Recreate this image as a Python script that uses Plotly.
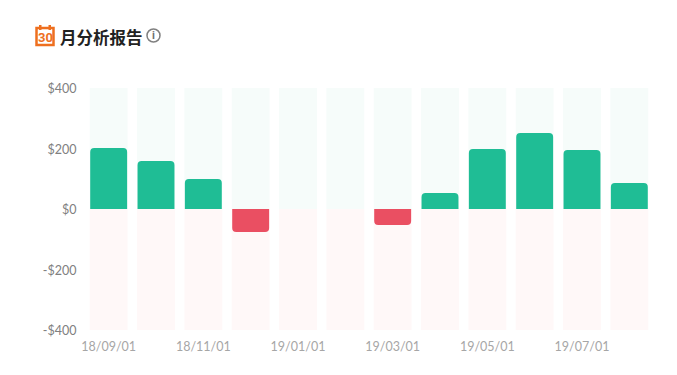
import plotly.graph_objects as go

months = ["18/09/01", "18/10/01", "18/11/01", "18/12/01", "19/01/01", "19/02/01",
          "19/03/01", "19/04/01", "19/05/01", "19/06/01", "19/07/01", "19/08/01"]
values = [202, 159, 99, -76, 0, 0, -53, 53, 198, 251, 195, 86]
bg_up = [400] * 12
bg_down = [-400] * 12
y_ticks = [400, 200, 0, -200, -400]
y_labels = ["$400", "$200", "$0", "-$200", "-$400"]
x_ticks = months[::2]
title = "月分析报告"

PAGE = 8  # the page's own margin
W, H = 677 - PAGE, 375 - PAGE
L, R, T, B = 85, 653, 88, 330   # plot box in window pixels


def px(x):
    return (x - L) / (R - L)


def py(y):
    return (B - y) / (B - T)


GREEN, RED, ORANGE = "#1fbd95", "#ea4f62", "#ee6f1f"
fig = go.Figure()
fig.add_bar(x=months, y=bg_up, marker=dict(color="#f6fcfa", line_width=0), width=0.8, hoverinfo="skip")
fig.add_bar(x=months, y=bg_down, marker=dict(color="#fff8f8", line_width=0), width=0.8, hoverinfo="skip")
fig.add_bar(x=months, y=values, width=0.78, yaxis="y2",
            marker=dict(color=[GREEN if v >= 0 else RED for v in values], line_width=0, cornerradius=4))


def paper_rect(x0, x1, y0, y1, **kw):
    return dict(type="rect", xref="paper", yref="paper", x0=px(x0), x1=px(x1), y0=py(y0), y1=py(y1), **kw)


fig.update_layout(
    width=W, height=H, autosize=False, barmode="overlay", showlegend=False,
    paper_bgcolor="white", plot_bgcolor="white",
    margin=dict(l=L - PAGE, r=W + PAGE - R, t=T - PAGE, b=H + PAGE - B),
    font=dict(family="Lato, sans-serif"),
    xaxis=dict(type="category", categoryorder="array", categoryarray=months,
               tickmode="array", tickvals=x_ticks, ticktext=x_ticks,
               showgrid=False, zeroline=False, showline=False, ticks="outside", ticklen=5,
               tickcolor="rgba(0,0,0,0)",
               tickfont=dict(size=12.5, color="#a6a6a6"), range=[-0.5, 11.5]),
    yaxis=dict(range=[-400, 400], tickmode="array", tickvals=y_ticks, ticktext=y_labels,
               showgrid=False, zeroline=False, showline=False, ticks="outside", ticklen=5,
               ticklabelshift=1, tickcolor="rgba(0,0,0,0)",
               tickfont=dict(size=12.5, color="#808080")),
    yaxis2=dict(range=[-400, 400], overlaying="y", visible=False),
    shapes=[
        dict(type="line", xref="paper", yref="paper", x0=px(674.5), x1=px(674.5),
             y0=py(70), y1=py(375), line=dict(color="#f0f0f0", width=1)),
        paper_rect(39, 41.5, 25, 30, fillcolor=ORANGE, line_width=0),
        paper_rect(48.5, 51, 25, 30, fillcolor=ORANGE, line_width=0),
        paper_rect(36.5, 53.5, 28, 45, line=dict(color=ORANGE, width=2.5), fillcolor="rgba(0,0,0,0)"),
        dict(type="circle", xref="paper", yref="paper", x0=px(147), x1=px(160), y0=py(29), y1=py(42),
             line=dict(color="#808080", width=1.5), fillcolor="rgba(0,0,0,0)"),
    ],
    annotations=[
        dict(text=title, xref="paper", yref="paper", x=px(58), y=py(37),
             xanchor="left", yanchor="middle", showarrow=False,
             font=dict(family="Noto Sans CJK SC", size=16.5, color="#222222", weight="bold")),
        dict(text="30", xref="paper", yref="paper", x=px(45), y=py(37.5),
             xanchor="center", yanchor="middle", showarrow=False,
             font=dict(family="Roboto", size=13, color=ORANGE, weight="bold")),
        dict(text="i", xref="paper", yref="paper", x=px(153.5), y=py(35.5),
             xanchor="center", yanchor="middle", showarrow=False,
             font=dict(family="Roboto", size=11, color="#707070", weight="bold")),
    ],
)
fig.write_html("out.html")
